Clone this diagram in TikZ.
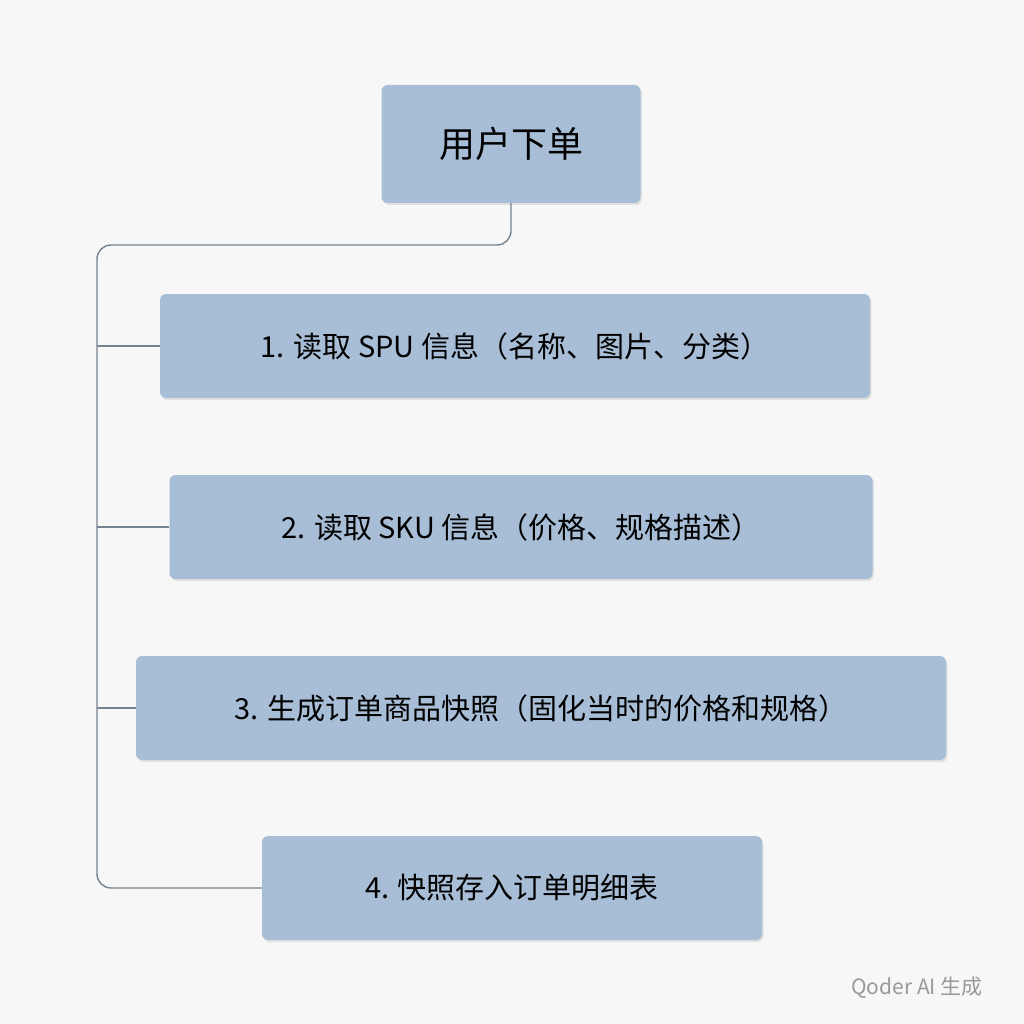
\documentclass[tikz,border=0pt]{standalone}
\usepackage{fontspec}
\setmainfont{Noto Sans CJK SC}
\usetikzlibrary{shadows}
\definecolor{boxfill}{HTML}{A8BED7}
\definecolor{linegray}{HTML}{75828F}
\definecolor{bggray}{HTML}{F7F7F7}
\tikzset{stage/.style={rectangle,rounded corners=6pt,fill=boxfill,font=\fontsize{29}{34}\selectfont,
  drop shadow={shadow xshift=1.5pt,shadow yshift=-2pt,opacity=0.18}}}
\tikzset{link/.style={draw=linegray,line width=1.4pt,rounded corners=14pt}}
\begin{document}
\begin{tikzpicture}[x=1pt,y=-1pt]
\fill[bggray](0,0)rectangle(1024,1024);
\useasboundingbox(0,0)rectangle(1024,1024);
\node[stage,minimum width=259pt,minimum height=118pt,font=\fontsize{36}{40}\selectfont](order)at(511,144){用户下单};
\node[stage,minimum width=710pt,minimum height=104pt](s1)at(515,346){1. 读取 SPU 信息（名称、图片、分类）};
\node[stage,minimum width=703pt,minimum height=104pt](s2)at(521,527){2. 读取 SKU 信息（价格、规格描述）};
\node[stage,minimum width=810pt,minimum height=104pt](s3)at(541,708){3. 生成订单商品快照（固化当时的价格和规格）};
\node[stage,minimum width=500pt,minimum height=104pt](s4)at(512,888){4. 快照存入订单明细表};
\coordinate(spine)at(97,245);
\draw[link](order.south)|-(spine)|-(s4.west);
\foreach \s in {s1,s2,s3}
  \draw[link](spine|-\s.west)--(\s.west);
\node[text=gray!80,font=\fontsize{21}{24}\selectfont](mark)at(917,988){Qoder AI 生成};
\end{tikzpicture}
\end{document}
